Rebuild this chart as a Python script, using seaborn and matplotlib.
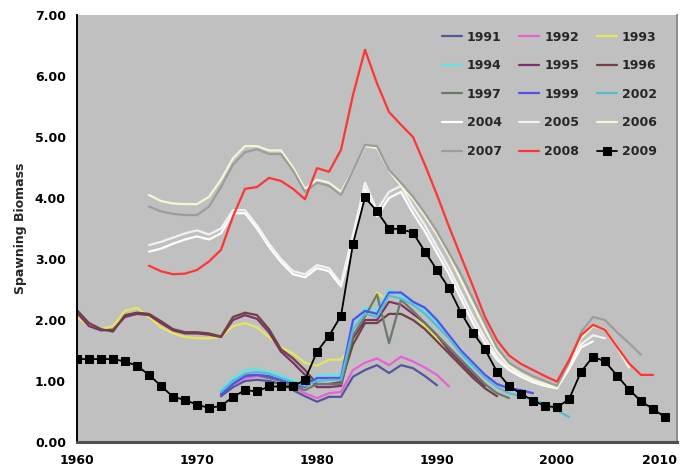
import matplotlib
matplotlib.use("Agg")
import matplotlib.pyplot as plt
import seaborn as sns
import pandas as pd

# Assessment year -> (first model year, spawning biomass series)
start_1991 = 1972
sb_1991 = [0.75, 0.90, 1.00, 1.02, 1.00, 0.95, 0.85, 0.75, 0.66, 0.74, 0.74, 1.07,
           1.18, 1.26, 1.13, 1.26, 1.21, 1.08, 0.93]
start_1992 = 1972
sb_1992 = [0.80, 0.95, 1.05, 1.08, 1.05, 1.00, 0.90, 0.80, 0.72, 0.80, 0.82, 1.18,
           1.30, 1.37, 1.26, 1.40, 1.32, 1.22, 1.10, 0.91]
start_1993 = 1960
sb_1993 = [2.05, 1.90, 1.85, 1.90, 2.15, 2.20, 2.05, 1.88, 1.78, 1.72,
           1.70, 1.70, 1.72, 1.90, 1.95, 1.88, 1.72, 1.55, 1.45, 1.30,
           1.25, 1.35, 1.35, 1.60, 2.00, 2.45, 2.30, 2.25, 2.10, 1.90,
           1.70, 1.45, 1.25]
start_1994 = 1972
sb_1994 = [0.85, 1.05, 1.18, 1.20, 1.15, 1.10, 1.00, 0.95, 1.10, 1.10, 1.10, 1.95,
           2.20, 2.15, 2.50, 2.40, 2.30, 2.15, 1.95, 1.70, 1.45, 1.20]
start_1995 = 1960
sb_1995 = [2.12, 1.90, 1.83, 1.84, 2.05, 2.10, 2.08, 1.95, 1.83, 1.78,
           1.78, 1.76, 1.72, 2.00, 2.08, 2.02, 1.80, 1.48, 1.30, 1.10,
           0.90, 0.90, 0.92, 1.70, 2.00, 2.00, 2.30, 2.25, 2.10, 1.95,
           1.75, 1.50, 1.30, 1.10, 0.92]
start_1996 = 1960
sb_1996 = [2.16, 1.95, 1.85, 1.81, 2.08, 2.12, 2.10, 1.98, 1.85, 1.80,
           1.80, 1.78, 1.73, 2.05, 2.12, 2.08, 1.85, 1.52, 1.37, 1.18,
           0.95, 0.95, 0.98, 1.60, 1.95, 1.95, 2.10, 2.10, 2.00, 1.85,
           1.65, 1.45, 1.25, 1.05, 0.88, 0.75]
start_1997 = 1972
sb_1997 = [0.80, 1.00, 1.10, 1.10, 1.05, 1.00, 0.92, 0.85, 0.95, 0.95, 0.95, 1.75,
           2.05, 2.42, 1.62, 2.33, 2.15, 1.95, 1.75, 1.55, 1.35, 1.15, 0.95, 0.80,
           0.72]
start_1999 = 1972
sb_1999 = [0.78, 0.95, 1.08, 1.10, 1.08, 1.02, 0.95, 0.90, 1.05, 1.05, 1.05, 2.00,
           2.15, 2.10, 2.45, 2.45, 2.30, 2.20, 2.00, 1.75, 1.50, 1.30, 1.10, 0.95,
           0.88, 0.85, 0.80]
start_2002 = 1972
sb_2002 = [0.82, 1.00, 1.12, 1.15, 1.12, 1.05, 0.98, 0.92, 1.00, 1.02, 1.02, 1.85,
           2.10, 2.05, 2.40, 2.35, 2.25, 2.10, 1.90, 1.70, 1.45, 1.25, 1.05, 0.90,
           0.80, 0.75, 0.70, 0.62, 0.52, 0.41]
start_2004 = 1966
sb_2004 = [3.12, 3.17, 3.25, 3.32,
           3.37, 3.32, 3.42, 3.75, 3.75, 3.50, 3.20, 2.95, 2.75, 2.70,
           2.85, 2.80, 2.55, 3.30, 4.15, 3.70, 4.00, 4.10, 3.75, 3.45,
           3.10, 2.75, 2.35, 1.95, 1.62, 1.35, 1.18, 1.07, 0.98, 0.92,
           0.88, 1.20, 1.55, 1.65]
start_2005 = 1966
sb_2005 = [3.23, 3.28, 3.35, 3.42,
           3.47, 3.40, 3.50, 3.80, 3.80, 3.55, 3.25, 3.00, 2.80, 2.75,
           2.90, 2.85, 2.60, 3.40, 4.25, 3.80, 4.10, 4.20, 3.85, 3.55,
           3.20, 2.85, 2.45, 2.05, 1.70, 1.40, 1.20, 1.10, 1.00, 0.95,
           0.90, 1.25, 1.60, 1.75, 1.70]
start_2006 = 1966
sb_2006 = [4.05, 3.95, 3.91, 3.90,
           3.90, 4.02, 4.30, 4.65, 4.85, 4.85, 4.78, 4.78, 4.50, 4.15,
           4.30, 4.25, 4.10, 4.45, 4.85, 4.82, 4.45, 4.20, 3.98, 3.70,
           3.40, 3.05, 2.65, 2.25, 1.85, 1.48, 1.25, 1.12, 1.02, 0.95,
           0.88, 1.25, 1.70, 1.90, 1.85, 1.55, 1.22]
start_2007 = 1966
sb_2007 = [3.86, 3.78, 3.74, 3.72,
           3.72, 3.86, 4.18, 4.55, 4.75, 4.80, 4.72, 4.72, 4.45, 4.10,
           4.25, 4.20, 4.05, 4.45, 4.87, 4.85, 4.46, 4.25, 4.02, 3.75,
           3.45, 3.10, 2.75, 2.35, 1.95, 1.55, 1.30, 1.18, 1.08, 1.00,
           0.92, 1.30, 1.80, 2.05, 2.00, 1.80, 1.62, 1.43]
start_2008 = 1966
sb_2008 = [2.89, 2.80, 2.75, 2.76,
           2.82, 2.96, 3.15, 3.70, 4.15, 4.18, 4.33, 4.28, 4.15, 3.98,
           4.49, 4.43, 4.79, 5.69, 6.43, 5.88, 5.41, 5.20, 5.00, 4.54,
           4.05, 3.53, 3.04, 2.55, 2.05, 1.67, 1.42, 1.28, 1.18, 1.08,
           0.99, 1.34, 1.75, 1.92, 1.84, 1.56, 1.29, 1.10, 1.10]
start_2009 = 1960
sb_2009 = [1.36, 1.36, 1.36, 1.36, 1.32, 1.25, 1.10, 0.92, 0.74, 0.69,
           0.61, 0.56, 0.59, 0.74, 0.85, 0.83, 0.91, 0.91, 0.91, 1.02,
           1.48, 1.74, 2.07, 3.25, 4.01, 3.78, 3.50, 3.49, 3.43, 3.12,
           2.82, 2.52, 2.12, 1.79, 1.52, 1.15, 0.92, 0.79, 0.68, 0.59,
           0.57, 0.70, 1.15, 1.40, 1.32, 1.09, 0.86, 0.67, 0.54, 0.41]

assessments = ["1991", "1992", "1993", "1994", "1995", "1996", "1997", "1999",
               "2002", "2004", "2005", "2006", "2007", "2008", "2009"]
series = {
    "1991": (start_1991, sb_1991), "1992": (start_1992, sb_1992),
    "1993": (start_1993, sb_1993), "1994": (start_1994, sb_1994),
    "1995": (start_1995, sb_1995), "1996": (start_1996, sb_1996),
    "1997": (start_1997, sb_1997), "1999": (start_1999, sb_1999),
    "2002": (start_2002, sb_2002), "2004": (start_2004, sb_2004),
    "2005": (start_2005, sb_2005), "2006": (start_2006, sb_2006),
    "2007": (start_2007, sb_2007), "2008": (start_2008, sb_2008),
    "2009": (start_2009, sb_2009),
}
colors = {
    "1991": "#55559e", "1992": "#e860d8", "1993": "#e6e65c", "1994": "#66e2e2",
    "1995": "#7e2f6e", "1996": "#6e4242", "1997": "#6a7a6a", "1999": "#5050f0",
    "2002": "#55bcd8", "2004": "#ffffff", "2005": "#f2f2f2", "2006": "#f6f6d4",
    "2007": "#9c9c9c", "2008": "#ff3434", "2009": "#000000",
}

rows = []
for name in assessments:
    first, values = series[name]
    for i, v in enumerate(values):
        rows.append({"assessment": name, "year": first + i, "biomass": v})
df = pd.DataFrame(rows)

sns.set_style("white")
plt.rcParams["font.family"] = ["DejaVu Sans"]

fig = plt.figure(figsize=(6.91, 4.71), dpi=100)
ax = fig.add_axes([77 / 691, 29 / 471, 600 / 691, 427 / 471])
ax.set_facecolor("#c0c0c0")

for name in assessments:
    sub = df[df["assessment"] == name]
    if name == "2009":
        sns.lineplot(data=sub, x="year", y="biomass", ax=ax, color="black",
                     linewidth=1.3, marker="s", markersize=5.5,
                     markeredgecolor="black", label=name, zorder=5)
    else:
        sns.lineplot(data=sub, x="year", y="biomass", ax=ax,
                     color=colors[name], linewidth=1.6, label=name)

ax.set_xlim(1960, 2010)
ax.set_ylim(0, 7)
ax.set_xticks(range(1960, 2011, 10))
ax.set_yticks(range(0, 8))
ax.set_yticklabels([f"{v:.2f}" for v in range(0, 8)])
ax.set_xlabel("")
ax.set_ylabel("Spawning Biomass", fontsize=9, fontweight="bold", labelpad=6)
for lab in ax.get_xticklabels() + ax.get_yticklabels():
    lab.set_fontweight("bold")
    lab.set_fontsize(9)
ax.tick_params(axis="x", direction="inout", length=5, width=1, pad=6, colors="#333333")
ax.tick_params(axis="y", direction="out", length=4, width=1, pad=4, colors="#333333")
for lab in ax.get_xticklabels() + ax.get_yticklabels():
    lab.set_color("black")
# keep the right-most year label inside the canvas
ax.get_xticklabels()[-1].set_horizontalalignment("right")

ax.spines["top"].set_visible(False)
ax.spines["left"].set_color("black")
ax.spines["left"].set_linewidth(1.4)
ax.spines["bottom"].set_color("#505050")
ax.spines["bottom"].set_linewidth(2.2)
ax.spines["right"].set_color("#8a8a8a")
ax.spines["right"].set_linewidth(1.4)

# Legend laid out row by row in three columns
handles, labels = ax.get_legend_handles_labels()
order = [r * 3 + c for c in range(3) for r in range(5)]
leg = ax.legend([handles[i] for i in order], [labels[i] for i in order],
                ncol=3, loc="upper right", bbox_to_anchor=(0.985, 0.99),
                frameon=False, fontsize=9, handlelength=1.6,
                labelspacing=1.25, columnspacing=1.4, handletextpad=0.4)
for t in leg.get_texts():
    t.set_fontweight("bold")

fig.savefig("out.png", dpi=100, facecolor="white")
